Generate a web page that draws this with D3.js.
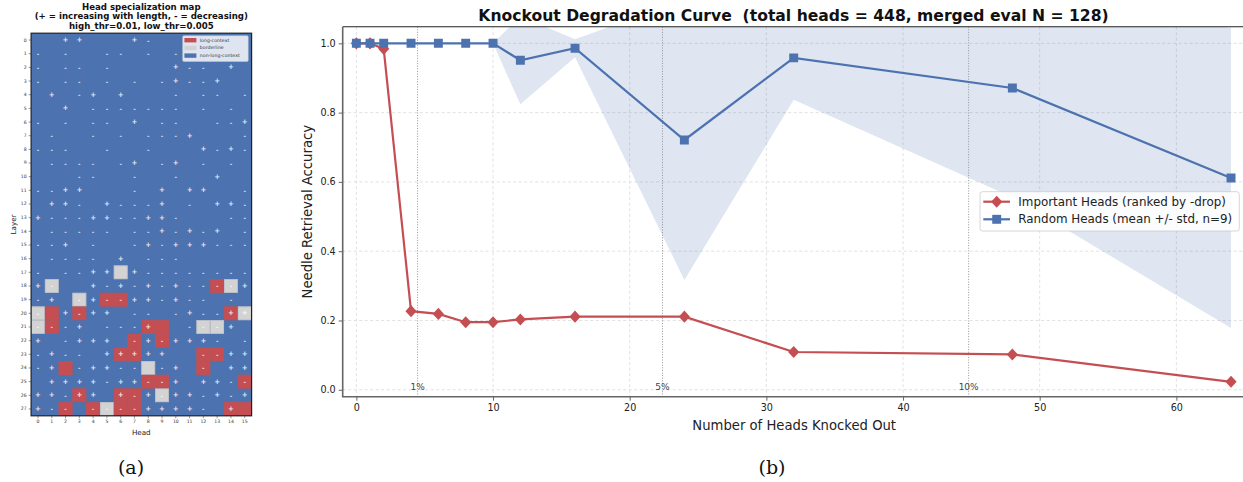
<!DOCTYPE html>
<html>
<head>
<meta charset="utf-8">
<script src="https://cdn.jsdelivr.net/npm/d3@7/dist/d3.min.js"></script>
<style>
  html, body { margin: 0; padding: 0; background: #fff; }
  svg { display: block; font-family: "DejaVu Sans", sans-serif; }
</style>
</head>
<body>
<svg id="fig" width="1243" height="482"></svg>
<script>
// ---------- (a) head specialization map ----------
const layers = d3.range(28);
const heads = d3.range(16);
// trend sign per cell, one string per layer, one char per head ('+', '-', '.' = none)
const trendRows = [
  "..++...+-.......",
  "-.-..--.-.-.....",
  "-.--.-....+--.+.",
  "-.--.-.-.-+--+..",
  ".+.-+.+...-.--.-",
  "..+.-------.-.-.",
  "-.-.--.+.--..--+",
  ".-..-.-.---+...-",
  "---..-..-...+-+-",
  ".----.-+.-+.-.-.",
  "...--..-..-..+..",
  "--++...-.+.++..-",
  ".++-.+---+.-.++-",
  "+---++--++-...--",
  ".-----.--+-+-+.-",
  "--+.-..-+-+++---",
  ".----.+.---.....",
  "-.--++.+--------",
  "+-..+-+-+-+----+",
  "-+.-+--++-+--.-.",
  "-.+-++.--.-+--++",
  "---+.---+..---+.",
  "+.-+++.-+-+++-.-",
  "-+--.+++++..--++",
  "-+.-++--.-+.-.++",
  ".++++-++--+.++--",
  "++-++.+-+-++-+-+",
  "+--.----++++-.+."
];
// [layer, head] cells classified as long-context
const longContextCells = [
  [18,13],[19,5],[19,6],[20,1],[20,3],[20,14],[21,1],[21,8],[21,9],
  [22,7],[22,9],[23,6],[23,7],[23,12],[23,13],[24,2],[24,12],
  [25,8],[25,9],[25,15],[26,3],[26,6],[26,7],
  [27,2],[27,4],[27,6],[27,7],[27,14],[27,15]
];
// [layer, head] cells classified as borderline
const borderlineCells = [
  [17,6],[18,1],[18,14],[19,3],[20,0],[20,15],[21,0],[21,12],[21,13],
  [24,8],[26,9],[27,5]
];
const classLabels = ["long-context", "borderline", "non-long-context"];
const classColors = ["#c44e52", "#d3d3d3", "#4c72b0"];

// ---------- (b) knockout curve ----------
const knockedOut = [0, 1, 2, 4, 6, 8, 10, 12, 16, 24, 32, 48, 64];
const importantAcc = [1.0, 1.0, 0.984, 0.227, 0.219, 0.195, 0.195, 0.203, 0.211, 0.211, 0.109, 0.102, 0.023];
const randomMean = [1.0, 1.0, 1.0, 1.0, 1.0, 1.0, 1.0, 0.951, 0.986, 0.721, 0.958, 0.871, 0.611];
const randomStd = [0, 0, 0, 0, 0, 0, 0, 0.127, 0.026, 0.404, 0.121, 0.315, 0.433];
const totalHeads = 448;
const pctMarks = [0.01, 0.05, 0.10];
const seriesNames = ["Important Heads (ranked by -drop)", "Random Heads (mean +/- std, n=9)"];
const seriesColors = ["#c44e52", "#4c72b0"];

const svg = d3.select("#fig");
svg.append("rect").attr("width", 1243).attr("height", 482).attr("fill", "#fff");

// ===== heatmap =====
(function drawHeatmap() {
  const g = svg.append("g");
  const hx = d3.scaleBand().domain(heads).range([31.1, 251.6]);
  const hy = d3.scaleBand().domain(layers).range([33.2, 415.8]);

  const cls = {};
  longContextCells.forEach(([l, h]) => cls[l + "_" + h] = 0);
  borderlineCells.forEach(([l, h]) => cls[l + "_" + h] = 1);

  const cells = [];
  layers.forEach(l => heads.forEach(h => {
    const k = l + "_" + h;
    cells.push({ l, h, c: k in cls ? cls[k] : 2, s: trendRows[l].charAt(h) });
  }));

  // non-long-context background covers the whole grid without seams
  g.append("rect").attr("x", 31.1).attr("y", 33.2).attr("width", 220.5).attr("height", 382.6)
    .attr("fill", classColors[2]);

  g.selectAll("rect.cell").data(cells.filter(d => d.c !== 2)).join("rect")
    .attr("class", "cell")
    .attr("x", d => hx(d.h)).attr("y", d => hy(d.l))
    .attr("width", hx.bandwidth()).attr("height", hy.bandwidth())
    .attr("fill", d => classColors[d.c]);

  // faint outline on highlighted cells
  g.selectAll("rect.hl").data(cells.filter(d => d.c !== 2)).join("rect")
    .attr("x", d => hx(d.h) + 0.4).attr("y", d => hy(d.l) + 0.4)
    .attr("width", hx.bandwidth() - 0.8).attr("height", hy.bandwidth() - 0.8)
    .attr("fill", "none")
    .attr("stroke", d => d.c === 1 ? "#b8bcc6" : "#b8545c").attr("stroke-width", 0.7);

  g.selectAll("text.sign").data(cells.filter(d => d.s !== ".")).join("text")
    .attr("x", d => hx(d.h) + hx.bandwidth() / 2)
    .attr("y", d => hy(d.l) + hy.bandwidth() / 2)
    .attr("text-anchor", "middle").attr("dominant-baseline", "central")
    .attr("font-size", d => d.s === "+" ? 7 : 6).attr("font-weight", "bold")
    .attr("fill", "#fff").attr("fill-opacity", 0.88)
    .text(d => d.s);

  // frame
  g.append("rect").attr("x", 31.1).attr("y", 33.2).attr("width", 220.5).attr("height", 382.6)
    .attr("fill", "none").attr("stroke", "#222").attr("stroke-width", 1.2);

  const ay = g.append("g").attr("transform", "translate(31.1,0)")
    .call(d3.axisLeft(hy).tickSize(2.5).tickPadding(2));
  ay.select(".domain").remove();
  ay.selectAll("text").attr("font-size", 4.6).attr("fill", "#333").attr("font-family", "DejaVu Sans");
  ay.selectAll("line").attr("stroke", "#333").attr("stroke-width", 0.5);

  const ax = g.append("g").attr("transform", "translate(0,415.8)")
    .call(d3.axisBottom(hx).tickSize(2.5).tickPadding(1.5));
  ax.select(".domain").remove();
  ax.selectAll("text").attr("font-size", 4.6).attr("fill", "#333").attr("font-family", "DejaVu Sans");
  ax.selectAll("line").attr("stroke", "#333").attr("stroke-width", 0.5);

  g.append("text").attr("x", 141.3).attr("y", 434.5).attr("text-anchor", "middle")
    .attr("font-size", 7.2).attr("fill", "#222").text("Head");
  g.append("text").attr("transform", "translate(15.5,224.5) rotate(-90)").attr("text-anchor", "middle")
    .attr("font-size", 7.2).attr("fill", "#222").text("Layer");

  const titleLines = ["Head specialization map", "(+ = increasing with length, - = decreasing)", "high_thr=0.01, low_thr=0.005"];
  g.selectAll("text.ttl").data(titleLines).join("text")
    .attr("x", 141.3).attr("y", (d, i) => 9.6 + i * 9.5)
    .attr("text-anchor", "middle").attr("font-size", 8.6).attr("font-weight", "bold")
    .attr("fill", "#111").text(d => d);

  // legend
  const lg = g.append("g");
  lg.append("rect").attr("x", 182.7).attr("y", 35.8).attr("width", 65.5).attr("height", 25.6)
    .attr("rx", 1.2).attr("fill", "#fff").attr("fill-opacity", 0.82)
    .attr("stroke", "#ccc").attr("stroke-width", 0.5);
  classLabels.forEach((lab, i) => {
    const yy = 40.2 + i * 7.7;
    lg.append("rect").attr("x", 184.4).attr("y", yy - 2.2).attr("width", 12).attr("height", 4.4)
      .attr("fill", classColors[i]);
    lg.append("text").attr("x", 199.8).attr("y", yy).attr("dominant-baseline", "central")
      .attr("font-size", 4.7).attr("fill", "#333").text(lab);
  });

  svg.append("text").attr("x", 131).attr("y", 474).attr("text-anchor", "middle")
    .attr("font-family", "DejaVu Serif, serif").attr("font-size", 19).attr("fill", "#111").text("(a)");
})();

// ===== knockout degradation curve =====
(function drawCurve() {
  const g = svg.append("g");
  const left = 342.7, top = 26.7, bottom = 396.7, right = 1244.7;
  const x = d3.scaleLinear().domain([-1, 65]).range([left, right]);
  const y = d3.scaleLinear().domain([-0.02, 1.048]).range([bottom, top]);

  svg.append("defs").append("clipPath").attr("id", "plotClip")
    .append("rect").attr("x", left).attr("y", top).attr("width", right - left).attr("height", bottom - top);

  const xTicks = d3.range(0, 61, 10);
  const yTicks = [0, 0.2, 0.4, 0.6, 0.8, 1.0];

  // grid
  g.append("g").selectAll("line").data(xTicks).join("line")
    .attr("x1", d => x(d)).attr("x2", d => x(d)).attr("y1", top).attr("y2", bottom)
    .attr("stroke", "#d9d9d9").attr("stroke-width", 0.8).attr("stroke-dasharray", "3,2.5");
  g.append("g").selectAll("line").data(yTicks).join("line")
    .attr("x1", left).attr("x2", right).attr("y1", d => y(d)).attr("y2", d => y(d))
    .attr("stroke", "#d9d9d9").attr("stroke-width", 0.8).attr("stroke-dasharray", "3,2.5");

  const plot = g.append("g").attr("clip-path", "url(#plotClip)");

  // std band
  const band = d3.area()
    .x((d, i) => x(knockedOut[i]))
    .y0((d, i) => y(randomMean[i] - randomStd[i]))
    .y1((d, i) => y(randomMean[i] + randomStd[i]));
  plot.append("path").datum(randomMean).attr("d", band)
    .attr("fill", "#4c72b0").attr("fill-opacity", 0.18);

  // percentage markers
  pctMarks.forEach(p => {
    const xv = p * totalHeads;
    plot.append("line").attr("x1", x(xv)).attr("x2", x(xv)).attr("y1", top).attr("y2", bottom)
      .attr("stroke", "#8a8a8a").attr("stroke-width", 0.9).attr("stroke-dasharray", "1,1.6");
    g.append("text").attr("x", x(xv)).attr("y", 389.5).attr("text-anchor", "middle")
      .attr("font-size", 9).attr("fill", "#444").text(Math.round(p * 100) + "%");
  });

  const line = d3.line().x(d => x(d[0])).y(d => y(d[1]));
  const impPts = knockedOut.map((k, i) => [k, importantAcc[i]]);
  const rndPts = knockedOut.map((k, i) => [k, randomMean[i]]);

  const diamond = d3.symbol().type(d3.symbolDiamond2).size(80);
  const square = d3.symbol().type(d3.symbolSquare).size(80);

  plot.append("path").datum(impPts).attr("d", line)
    .attr("fill", "none").attr("stroke", seriesColors[0]).attr("stroke-width", 2.2);
  plot.selectAll("path.imp").data(impPts).join("path").attr("class", "imp")
    .attr("transform", d => `translate(${x(d[0])},${y(d[1])}) scale(1,1.08)`)
    .attr("d", diamond).attr("fill", seriesColors[0]);

  plot.append("path").datum(rndPts).attr("d", line)
    .attr("fill", "none").attr("stroke", seriesColors[1]).attr("stroke-width", 2.2);
  plot.selectAll("path.rnd").data(rndPts).join("path").attr("class", "rnd")
    .attr("transform", d => `translate(${x(d[0])},${y(d[1])})`)
    .attr("d", square).attr("fill", seriesColors[1]);

  // axes
  const ay = g.append("g").attr("transform", `translate(${left},0)`)
    .call(d3.axisLeft(y).tickValues(yTicks).tickFormat(d3.format(".1f")).tickSize(4).tickPadding(3));
  ay.select(".domain").remove();
  ay.selectAll("text").attr("font-size", 9.6).attr("fill", "#222").attr("font-family", "DejaVu Sans");
  ay.selectAll("line").attr("stroke", "#555").attr("stroke-width", 0.9);

  const ax = g.append("g").attr("transform", `translate(0,${bottom})`)
    .call(d3.axisBottom(x).tickValues(xTicks).tickSize(4).tickPadding(3));
  ax.select(".domain").remove();
  ax.selectAll("text").attr("font-size", 9.6).attr("fill", "#222").attr("font-family", "DejaVu Sans");
  ax.selectAll("line").attr("stroke", "#555").attr("stroke-width", 0.9);

  // spines
  g.append("line").attr("x1", left).attr("x2", right).attr("y1", top).attr("y2", top)
    .attr("stroke", "#222").attr("stroke-width", 1.1);
  g.append("line").attr("x1", left).attr("x2", left).attr("y1", top).attr("y2", bottom)
    .attr("stroke", "#666").attr("stroke-width", 1.6);
  g.append("line").attr("x1", left - 0.8).attr("x2", right).attr("y1", bottom).attr("y2", bottom)
    .attr("stroke", "#666").attr("stroke-width", 1.6);

  // labels
  g.append("text").attr("x", 793.5).attr("y", 20.5)
    .attr("text-anchor", "middle").attr("font-size", 15.6).attr("font-weight", "bold").attr("fill", "#111")
    .attr("xml:space", "preserve")
    .text(`Knockout Degradation Curve  (total heads = ${totalHeads}, merged eval N = 128)`);
  g.append("text").attr("x", 794.2).attr("y", 430)
    .attr("text-anchor", "middle").attr("font-size", 13.2).attr("fill", "#222")
    .text("Number of Heads Knocked Out");
  g.append("text").attr("transform", `translate(312,${(top + bottom) / 2}) rotate(-90)`)
    .attr("text-anchor", "middle").attr("font-size", 13.2).attr("fill", "#222")
    .text("Needle Retrieval Accuracy");

  // legend
  const lg = g.append("g");
  lg.append("rect").attr("x", 980).attr("y", 191.7).attr("width", 259.3).attr("height", 39.3)
    .attr("rx", 2.5).attr("fill", "#fff").attr("fill-opacity", 0.85)
    .attr("stroke", "#cccccc").attr("stroke-width", 0.8);
  const syms = [diamond, square];
  seriesNames.forEach((nm, i) => {
    const yy = 201.7 + i * 17.6;
    lg.append("line").attr("x1", 983.3).attr("x2", 1010).attr("y1", yy).attr("y2", yy)
      .attr("stroke", seriesColors[i]).attr("stroke-width", 2.2);
    lg.append("path").attr("transform", `translate(996.7,${yy})` + (i === 0 ? " scale(1,1.08)" : ""))
      .attr("d", syms[i]).attr("fill", seriesColors[i]);
    lg.append("text").attr("x", 1018.3).attr("y", yy).attr("dominant-baseline", "central")
      .attr("font-size", 11.9).attr("fill", "#222").text(nm);
  });

  svg.append("text").attr("x", 772).attr("y", 474).attr("text-anchor", "middle")
    .attr("font-family", "DejaVu Serif, serif").attr("font-size", 19).attr("fill", "#111").text("(b)");
})();
</script>
</body>
</html>
